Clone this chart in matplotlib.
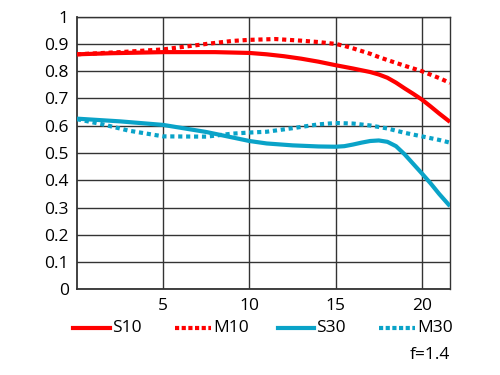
import matplotlib
matplotlib.use("Agg")
import matplotlib.pyplot as plt
from matplotlib.lines import Line2D

plt.rcParams['font.family'] = ['Open Sans', 'DejaVu Sans']

# Data (image height in mm vs MTF)
x_s10 = [0, 2, 5, 8, 10, 11, 12, 13, 14, 15, 16, 17, 17.5, 18, 18.5, 19, 19.5, 20, 20.5, 21, 21.63]
s10 = [0.862, 0.866, 0.870, 0.870, 0.867, 0.862, 0.855, 0.846, 0.835, 0.822, 0.810, 0.797, 0.788, 0.776, 0.758, 0.737, 0.717, 0.696, 0.671, 0.645, 0.614]

x_m10 = [0, 2.5, 5, 7.5, 9, 10, 11.5, 13, 14, 15, 15.5, 16, 16.5, 17, 17.5, 18, 19, 20, 21, 21.63]
m10 = [0.862, 0.870, 0.880, 0.900, 0.911, 0.915, 0.918, 0.912, 0.907, 0.900, 0.893, 0.884, 0.874, 0.864, 0.852, 0.841, 0.820, 0.800, 0.775, 0.757]

x_s30 = [0, 2.5, 5, 7.5, 10, 11, 12.5, 14, 15, 15.5, 16, 16.5, 17, 17.5, 18, 18.5, 19, 19.5, 20, 20.5, 21, 21.63]
s30 = [0.626, 0.616, 0.603, 0.577, 0.544, 0.535, 0.528, 0.524, 0.523, 0.525, 0.531, 0.538, 0.544, 0.546, 0.541, 0.525, 0.495, 0.460, 0.425, 0.389, 0.350, 0.305]

x_m30 = [0, 1.5, 3, 5, 7.5, 9, 10, 11, 12.5, 14, 15, 16, 17, 18, 19, 20, 21, 21.63]
m30 = [0.624, 0.605, 0.582, 0.561, 0.560, 0.571, 0.575, 0.578, 0.591, 0.605, 0.610, 0.608, 0.601, 0.590, 0.574, 0.561, 0.548, 0.538]

x_ticks = [5, 10, 15, 20]
y_ticks = [0, 0.1, 0.2, 0.3, 0.4, 0.5, 0.6, 0.7, 0.8, 0.9, 1]
y_labels = ['0', '0.1', '0.2', '0.3', '0.4', '0.5', '0.6', '0.7', '0.8', '0.9', '1']
x_max = 21.63

red = '#ff0000'
blue = '#0aa3c8'

fig = plt.figure(figsize=(5, 3.75), dpi=100)
ax = fig.add_axes([0.154, 0.2285, 0.746, 0.727])

lw = 3.0
dash = (1.0, 0.9)
ax.plot(x_s10, s10, color=red, lw=lw, solid_capstyle='butt', zorder=3)
ax.plot(x_m10, m10, color=red, lw=lw, linestyle=(0, dash), dash_capstyle='butt', zorder=3)
ax.plot(x_s30, s30, color=blue, lw=lw, solid_capstyle='butt', zorder=3)
ax.plot(x_m30, m30, color=blue, lw=lw, linestyle=(0, dash), dash_capstyle='butt', zorder=3)

ax.set_xlim(0, x_max)
ax.set_ylim(0, 1)
ax.set_xticks(x_ticks)
ax.set_yticks(y_ticks)
ax.set_yticklabels(y_labels)
ax.tick_params(length=0, labelsize=12.5, pad=6, colors='black')
ax.grid(True, color='#333333', lw=1.0)
for s in ax.spines.values():
    s.set_color('#333333')
    s.set_linewidth(1.0)
ax.spines['left'].set_linewidth(1.3)
ax.spines['bottom'].set_linewidth(1.3)

# Legend
items = [
    (73, 110, 'S10', red, '-'),
    (175, 211, 'M10', red, (0, (1.0, 0.6))),
    (278, 314, 'S30', blue, '-'),
    (379, 415, 'M30', blue, (0, (1.0, 0.6))),
]
ly = 328
for x0, x1, lab, c, ls in items:
    fig.add_artist(Line2D([x0 / 500, x1 / 500], [1 - ly / 375, 1 - ly / 375],
                          color=c, lw=3.0, linestyle=ls, transform=fig.transFigure))
    fig.text((x1 + 2) / 500, 1 - ly / 375, lab, fontsize=12.5, va='center', ha='left')

fig.text(450 / 500, 1 - 355 / 375, 'f=1.4', fontsize=12.5, va='center', ha='right')

fig.savefig('out.png', dpi=100)
